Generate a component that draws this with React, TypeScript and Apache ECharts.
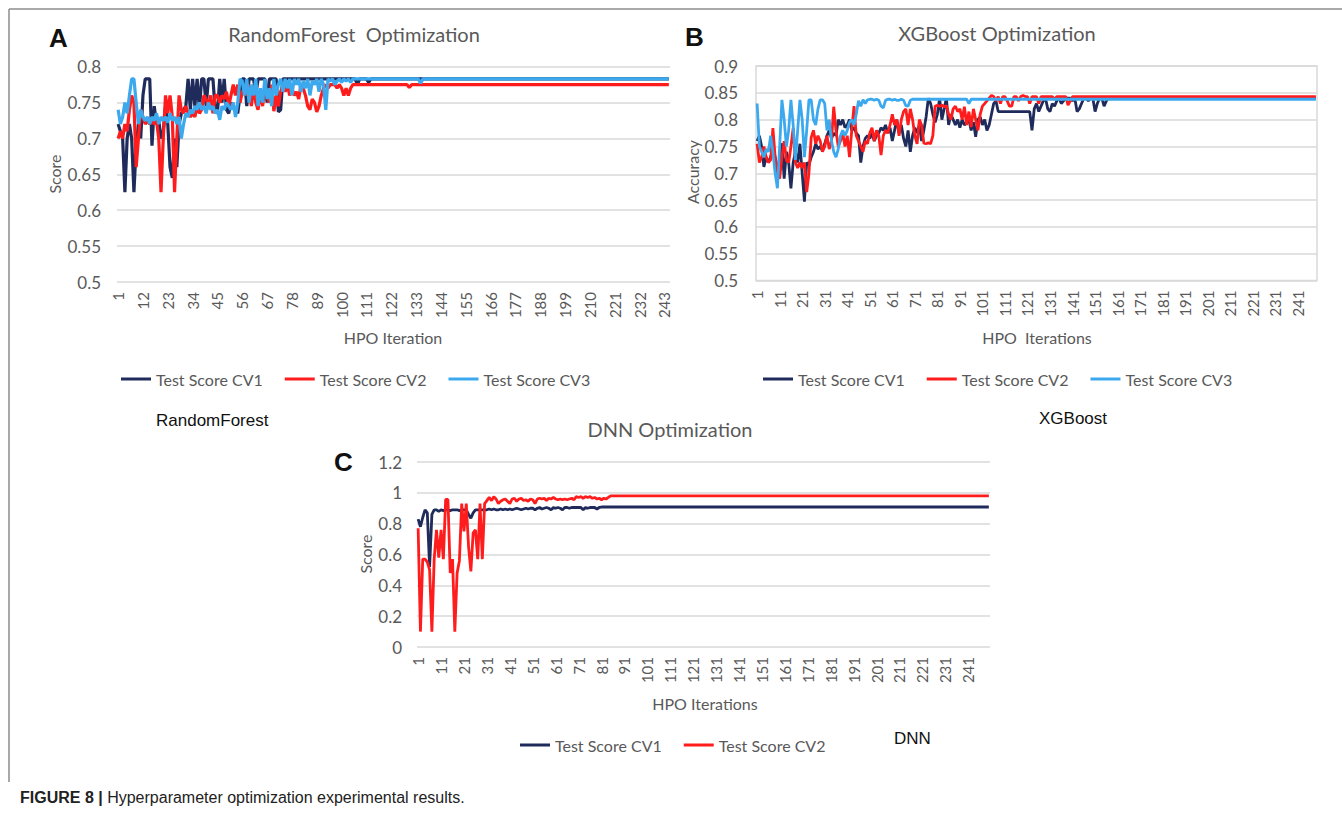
import React, { useEffect, useRef } from "react";
import * as echarts from "echarts";

// ---------- categories ----------
const rfIterations = Array.from({ length: 245 }, (_, i) => String(i + 1));
const xgIterations = Array.from({ length: 249 }, (_, i) => String(i + 1));
const dnnIterations = Array.from({ length: 250 }, (_, i) => String(i + 1));

const legendNames = ["Test Score CV1", "Test Score CV2", "Test Score CV3"];

// ---------- Panel A: RandomForest (noisy head + flat tail runs [value, count]) ----------
const rfCV1Head = [
  0.72, 0.71, 0.70, 0.625, 0.70, 0.72, 0.70, 0.625, 0.69, 0.72,
  0.70, 0.76, 0.783, 0.783, 0.783, 0.69, 0.745, 0.72, 0.725, 0.70,
  0.71, 0.745, 0.72, 0.66, 0.645, 0.70, 0.66, 0.72, 0.735, 0.74,
  0.745, 0.783, 0.74, 0.783, 0.745, 0.783, 0.74, 0.783, 0.783, 0.745,
  0.783, 0.783, 0.783, 0.74, 0.735, 0.783, 0.75, 0.783, 0.74, 0.735,
  0.75, 0.745, 0.74, 0.735, 0.76, 0.783, 0.783, 0.745, 0.783, 0.783,
  0.783, 0.76, 0.783, 0.783, 0.783, 0.783, 0.75, 0.783, 0.783, 0.783,
  0.783, 0.737, 0.74, 0.783, 0.783, 0.783, 0.783, 0.783, 0.783, 0.783,
];
const rfCV1Tail: [number, number][] = [[0.783, 26], [0.775, 1], [0.783, 4], [0.778, 1], [0.783, 133]];

const rfCV2Head = [
  0.70, 0.71, 0.70, 0.72, 0.71, 0.74, 0.76, 0.75, 0.66, 0.70,
  0.74, 0.73, 0.72, 0.725, 0.72, 0.725, 0.72, 0.725, 0.70, 0.625,
  0.70, 0.76, 0.735, 0.76, 0.73, 0.625, 0.70, 0.76, 0.74, 0.735,
  0.745, 0.735, 0.73, 0.735, 0.73, 0.745, 0.735, 0.74, 0.76, 0.755,
  0.745, 0.76, 0.735, 0.76, 0.76, 0.75, 0.76, 0.755, 0.765, 0.745,
  0.76, 0.775, 0.76, 0.775, 0.75, 0.765, 0.77, 0.76, 0.775, 0.745,
  0.77, 0.75, 0.74, 0.765, 0.745, 0.77, 0.76, 0.75, 0.775, 0.738,
  0.76, 0.745, 0.765, 0.775, 0.765, 0.775, 0.76, 0.77, 0.76, 0.765,
  0.755, 0.775, 0.77, 0.76, 0.745, 0.74, 0.755, 0.75, 0.737, 0.745,
  0.76, 0.77, 0.775, 0.77, 0.775, 0.775, 0.775, 0.77, 0.775, 0.77,
  0.76, 0.77, 0.76, 0.77, 0.775, 0.775,
];
const rfCV2Tail: [number, number][] = [[0.775, 23], [0.771, 1], [0.775, 115]];

const rfCV3Head = [
  0.74, 0.72, 0.73, 0.75, 0.735, 0.76, 0.783, 0.783, 0.75, 0.72,
  0.74, 0.73, 0.725, 0.73, 0.72, 0.73, 0.725, 0.735, 0.72, 0.73,
  0.725, 0.73, 0.722, 0.735, 0.725, 0.73, 0.72, 0.73, 0.70, 0.72,
  0.735, 0.73, 0.74, 0.735, 0.745, 0.74, 0.75, 0.74, 0.745, 0.735,
  0.75, 0.74, 0.745, 0.735, 0.74, 0.726, 0.745, 0.74, 0.75, 0.745,
  0.74, 0.75, 0.73, 0.75, 0.783, 0.78, 0.76, 0.783, 0.75, 0.775,
  0.76, 0.783, 0.745, 0.77, 0.75, 0.783, 0.755, 0.77, 0.745, 0.783,
  0.76, 0.775, 0.783, 0.765, 0.783, 0.77, 0.783, 0.76, 0.783, 0.775,
  0.783, 0.765, 0.78, 0.77, 0.783, 0.76, 0.78, 0.775, 0.783, 0.765,
  0.783, 0.775, 0.74, 0.783, 0.78, 0.783, 0.775, 0.78, 0.783, 0.778,
  0.783, 0.78, 0.783, 0.778,
];
const rfCV3Tail: [number, number][] = [[0.783, 30], [0.777, 1], [0.783, 110]];

// ---------- Panel B: XGBoost ----------
const xgCV1Head = [
  0.76, 0.77, 0.75, 0.712, 0.73, 0.72, 0.73, 0.745, 0.73, 0.71,
  0.72, 0.756, 0.69, 0.74, 0.72, 0.672, 0.72, 0.74, 0.72, 0.755,
  0.70, 0.647, 0.72, 0.715, 0.73, 0.74, 0.755, 0.745, 0.75, 0.742,
  0.755, 0.77, 0.78, 0.765, 0.775, 0.77, 0.80, 0.79, 0.80, 0.785,
  0.79, 0.80, 0.78, 0.785, 0.775, 0.77, 0.72, 0.75, 0.765, 0.77,
  0.765, 0.775, 0.76, 0.77, 0.775, 0.785, 0.78, 0.79, 0.775, 0.785,
  0.76, 0.78, 0.80, 0.775, 0.79, 0.765, 0.75, 0.78, 0.74, 0.77,
  0.785, 0.775, 0.79, 0.76, 0.78, 0.805, 0.84, 0.83, 0.81, 0.795,
  0.81, 0.84, 0.80, 0.82, 0.84, 0.79, 0.81, 0.80, 0.79, 0.80,
  0.785, 0.80, 0.79, 0.795, 0.80, 0.78, 0.795, 0.768, 0.80, 0.805,
  0.79, 0.80, 0.78, 0.79, 0.81, 0.83, 0.835, 0.815, 0.815, 0.815,
  0.815, 0.815, 0.815, 0.815, 0.815, 0.815, 0.815, 0.815, 0.815, 0.815,
  0.815, 0.815, 0.78, 0.82, 0.83, 0.815, 0.825, 0.835, 0.84, 0.82,
  0.815, 0.83, 0.825, 0.835, 0.84, 0.83, 0.835, 0.84, 0.84, 0.84,
  0.835, 0.84, 0.815, 0.82, 0.83, 0.84, 0.84, 0.835, 0.84, 0.84,
  0.815, 0.83, 0.84, 0.84, 0.825, 0.835,
];
const xgCV1Tail: [number, number][] = [[0.84, 93]];

const xgCV2Head = [
  0.755, 0.72, 0.73, 0.75, 0.73, 0.72, 0.725, 0.784, 0.73, 0.70,
  0.69, 0.73, 0.76, 0.724, 0.72, 0.75, 0.784, 0.72, 0.71, 0.72,
  0.71, 0.72, 0.665, 0.70, 0.767, 0.78, 0.755, 0.77, 0.76, 0.74,
  0.75, 0.77, 0.745, 0.76, 0.824, 0.78, 0.75, 0.76, 0.775, 0.75,
  0.77, 0.73, 0.78, 0.825, 0.77, 0.76, 0.75, 0.74, 0.76, 0.755,
  0.775, 0.785, 0.76, 0.78, 0.77, 0.734, 0.77, 0.78, 0.775, 0.79,
  0.81, 0.79, 0.80, 0.77, 0.80, 0.815, 0.82, 0.79, 0.82, 0.80,
  0.77, 0.755, 0.80, 0.79, 0.756, 0.755, 0.757, 0.755, 0.77, 0.825,
  0.827, 0.825, 0.827, 0.824, 0.826, 0.81, 0.80, 0.82, 0.825, 0.815,
  0.82, 0.80, 0.824, 0.79, 0.815, 0.786, 0.82, 0.80, 0.78, 0.81,
  0.825, 0.83, 0.835, 0.84, 0.845, 0.843, 0.835, 0.843, 0.83, 0.843,
  0.843, 0.835, 0.825, 0.825, 0.843, 0.843, 0.835, 0.843, 0.845, 0.843,
  0.843, 0.83, 0.843, 0.843, 0.843, 0.83, 0.843, 0.843, 0.843, 0.843,
  0.843, 0.843, 0.838, 0.843, 0.843, 0.843, 0.843, 0.843, 0.827, 0.835,
  0.843,
];
const xgCV2Tail: [number, number][] = [[0.843, 108]];

const xgCV3Head = [
  0.83, 0.75, 0.74, 0.73, 0.745, 0.74, 0.77, 0.74, 0.70, 0.672,
  0.75, 0.837, 0.80, 0.75, 0.78, 0.837, 0.79, 0.725, 0.78, 0.837,
  0.80, 0.73, 0.78, 0.837, 0.837, 0.80, 0.79, 0.82, 0.837, 0.837,
  0.83, 0.78, 0.80, 0.76, 0.74, 0.73, 0.745, 0.77, 0.78, 0.77,
  0.78, 0.795, 0.80, 0.79, 0.81, 0.835, 0.825, 0.837, 0.83, 0.837,
  0.838, 0.838, 0.836, 0.838, 0.836, 0.825, 0.822, 0.836, 0.838, 0.838,
  0.836, 0.838, 0.836, 0.836, 0.838, 0.836, 0.826, 0.825, 0.836, 0.838,
];
const xgCV3Tail: [number, number][] = [[0.838, 24], [0.83, 1], [0.838, 154]];

// ---------- Panel C: DNN ----------
const dnnCV1Head = [
  0.83, 0.78, 0.84, 0.89, 0.87, 0.52, 0.86, 0.89, 0.89, 0.88,
  0.89, 0.885, 0.89, 0.89, 0.885, 0.89, 0.89, 0.89, 0.885, 0.89,
  0.89, 0.89, 0.86, 0.835, 0.87, 0.89, 0.89, 0.89, 0.89, 0.89,
  0.89, 0.895, 0.89, 0.895, 0.89, 0.89, 0.895, 0.89, 0.895, 0.89,
  0.895, 0.89, 0.895, 0.90, 0.895, 0.89, 0.895, 0.90, 0.895, 0.90,
  0.90, 0.89, 0.90, 0.905, 0.895, 0.90, 0.905, 0.90, 0.89, 0.905,
  0.90, 0.905, 0.90, 0.89, 0.905, 0.905, 0.90, 0.905, 0.905, 0.905,
  0.905, 0.905, 0.89, 0.905, 0.90, 0.905, 0.905, 0.905, 0.895, 0.905,
];
const dnnCV1Tail: [number, number][] = [[0.908, 170]];

const dnnCV2Head = [
  0.77, 0.10, 0.57, 0.57, 0.55, 0.50, 0.10, 0.57, 0.76, 0.58,
  0.76, 0.57, 0.957, 0.957, 0.48, 0.57, 0.10, 0.48, 0.56, 0.93,
  0.75, 0.93, 0.65, 0.49, 0.74, 0.76, 0.57, 0.93, 0.57, 0.93,
  0.95, 0.97, 0.95, 0.975, 0.96, 0.93, 0.945, 0.955, 0.96, 0.945,
  0.93, 0.96, 0.965, 0.945, 0.96, 0.965, 0.95, 0.955, 0.945, 0.96,
  0.955, 0.93, 0.96, 0.965, 0.96, 0.965, 0.95, 0.965, 0.96, 0.97,
  0.96, 0.955, 0.96, 0.955, 0.96, 0.955, 0.96, 0.965, 0.955, 0.975,
  0.97, 0.975, 0.965, 0.975, 0.97, 0.975, 0.965, 0.97, 0.96, 0.965,
  0.955, 0.965, 0.96, 0.97, 0.98,
];
const dnnCV2Tail: [number, number][] = [[0.98, 165]];

function build(head: number[], tail: [number, number][]) {
  const out = head.slice();
  for (const [v, n] of tail) for (let i = 0; i < n; i++) out.push(v);
  return out;
}

const NAVY = "#1f2b5b";
const RED = "#fe1c1c";
const CYAN = "#3ca9ee";
const GRAY = "#595959";
const GRID_LINE = "#d9d9d9";
const FONT = "Lato, 'Open Sans', sans-serif";
const ARIAL = "'Liberation Sans', Arial, sans-serif";

export default function App() {
  const ref = useRef<HTMLDivElement>(null);

  useEffect(() => {
    if (!ref.current) return;
    const chart = echarts.init(ref.current, undefined, { renderer: "svg" });

    const grids = [
      { left: 117, top: 66.7, width: 553, height: 215.3 },
      { left: 756, top: 66, width: 561, height: 214.5, show: true, borderColor: GRID_LINE, borderWidth: 1.5 },
      { left: 417, top: 462, width: 573, height: 185 },
    ];

    const mkX = (idx: number, data: string[], interval: number) => ({
      type: "category",
      gridIndex: idx,
      data,
      boundaryGap: true,
      axisLine: { show: false },
      axisTick: { show: false },
      splitLine: { show: false },
      axisLabel: {
        interval,
        rotate: 90,
        color: GRAY,
        fontSize: 15,
        fontFamily: FONT,
        margin: 10,
      },
    });

    const mkY = (idx: number, min: number, max: number, interval: number, margin: number) => ({
      type: "value",
      gridIndex: idx,
      min,
      max,
      interval,
      axisLine: { show: false },
      axisTick: { show: false },
      splitLine: { show: true, lineStyle: { color: GRID_LINE, width: 1.5 } },
      axisLabel: { color: GRAY, fontSize: 17, fontFamily: FONT, margin },
    });

    const mkSeries = (name: string, data: number[], color: string, idx: number, width: number) => ({
      type: "line",
      name,
      data,
      xAxisIndex: idx,
      yAxisIndex: idx,
      showSymbol: false,
      symbol: "none",
      silent: true,
      color,
      lineStyle: { color, width },
      emphasis: { disabled: true },
    });

    const mkLegend = (left: number, top: number, names: string[]) => ({
      left,
      top,
      data: names,
      icon: "rect",
      itemWidth: 30,
      itemHeight: 3,
      itemGap: 22,
      selectedMode: false,
      textStyle: { color: GRAY, fontSize: 16, fontFamily: FONT },
    });

    const txt = (
      x: number,
      y: number,
      text: string,
      font: string,
      fill: string,
      align: string = "center",
      rotation = 0
    ) => ({
      type: "text",
      x,
      y,
      rotation,
      silent: true,
      style: { text, font, fill, align, verticalAlign: "middle" },
    });

    const option: any = {
      animation: false,
      backgroundColor: "#ffffff",
      grid: grids,
      xAxis: [mkX(0, rfIterations, 10), mkX(1, xgIterations, 9), mkX(2, dnnIterations, 9)],
      yAxis: [mkY(0, 0.5, 0.8, 0.05, 16), mkY(1, 0.5, 0.9, 0.05, 18), mkY(2, 0, 1.2, 0.2, 15)],
      legend: [
        mkLegend(116, 366, legendNames),
        mkLegend(758, 366, legendNames),
        mkLegend(515, 732, legendNames.slice(0, 2)),
      ],
      series: [
        mkSeries("Test Score CV1", build(rfCV1Head, rfCV1Tail), NAVY, 0, 3.2),
        mkSeries("Test Score CV2", build(rfCV2Head, rfCV2Tail), RED, 0, 3.2),
        mkSeries("Test Score CV3", build(rfCV3Head, rfCV3Tail), CYAN, 0, 3.2),
        mkSeries("Test Score CV1", build(xgCV1Head, xgCV1Tail), NAVY, 1, 2.8),
        mkSeries("Test Score CV2", build(xgCV2Head, xgCV2Tail), RED, 1, 2.8),
        mkSeries("Test Score CV3", build(xgCV3Head, xgCV3Tail), CYAN, 1, 2.8),
        mkSeries("Test Score CV1", build(dnnCV1Head, dnnCV1Tail), NAVY, 2, 2.8),
        mkSeries("Test Score CV2", build(dnnCV2Head, dnnCV2Tail), RED, 2, 2.8),
      ],
      graphic: [
        // frame
        { type: "line", silent: true, shape: { x1: 9, y1: 9, x2: 1342, y2: 9 }, style: { stroke: "#8c8c8c", lineWidth: 1.5 } },
        { type: "line", silent: true, shape: { x1: 9, y1: 9, x2: 9, y2: 782 }, style: { stroke: "#8c8c8c", lineWidth: 1.5 } },
        // panel letters
        txt(49, 38, "A", `bold 26px ${ARIAL}`, "#111", "left"),
        txt(685, 37, "B", `bold 26px ${ARIAL}`, "#111", "left"),
        txt(334, 462, "C", `bold 26px ${ARIAL}`, "#111", "left"),
        // titles
        txt(354, 34, "RandomForest  Optimization", `20px ${FONT}`, GRAY),
        txt(997, 33, "XGBoost Optimization", `20px ${FONT}`, GRAY),
        txt(670, 429, "DNN Optimization", `20px ${FONT}`, GRAY),
        // axis names
        txt(54, 174, "Score", `16px ${FONT}`, GRAY, "center", Math.PI / 2),
        txt(692, 172, "Accuracy", `16px ${FONT}`, GRAY, "center", Math.PI / 2),
        txt(365, 554, "Score", `16px ${FONT}`, GRAY, "center", Math.PI / 2),
        txt(393, 337, "HPO Iteration", `16px ${FONT}`, GRAY),
        txt(1037, 337, "HPO  Iterations", `16px ${FONT}`, GRAY),
        txt(705, 703, "HPO Iterations", `16px ${FONT}`, GRAY),
        // panel sub-labels
        txt(156, 420, "RandomForest", `17px ${ARIAL}`, "#111", "left"),
        txt(1039, 418, "XGBoost", `17px ${ARIAL}`, "#111", "left"),
        txt(894, 738, "DNN", `17px ${ARIAL}`, "#111", "left"),
        // caption
        {
          type: "text",
          x: 20,
          y: 797,
          silent: true,
          style: {
            text: "{b|FIGURE 8 |} Hyperparameter optimization experimental results.",
            font: `16px ${ARIAL}`,
            fill: "#222",
            align: "left",
            verticalAlign: "middle",
            rich: {
              b: { fontWeight: "bold", fontSize: 16, fontFamily: ARIAL, fill: "#222", color: "#222" },
            },
          },
        },
      ],
    };

    chart.setOption(option);
    return () => chart.dispose();
  }, []);

  return (
    <div
      ref={ref}
      style={{ position: "absolute", left: 0, top: 0, width: 1342, height: 814, background: "#fff" }}
    />
  );
}
